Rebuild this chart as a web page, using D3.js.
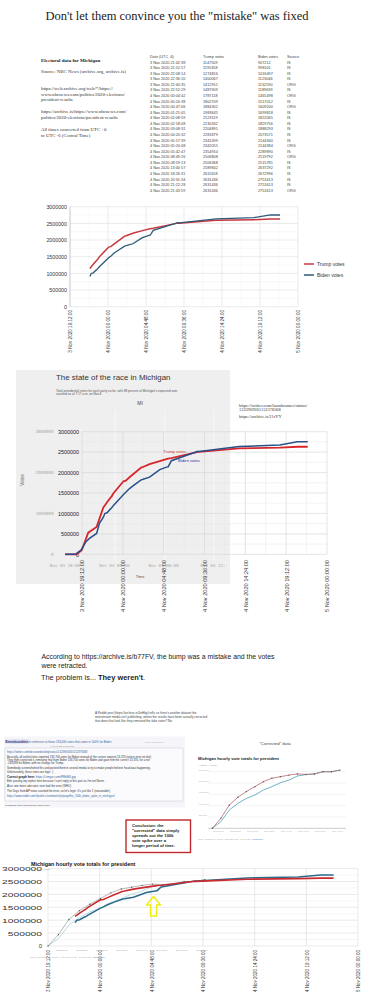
<!DOCTYPE html>
<html>
<head>
<meta charset="utf-8">
<script src="https://cdn.jsdelivr.net/npm/d3@7"></script>
<style>
  html, body { margin: 0; padding: 0; background: #fff; }
  svg { display: block; font-family: "Liberation Sans", Arial, sans-serif; }
</style>
</head>
<body>
<div id="vis"></div>
<script>
// ---- data ----
const rowTimes = [
  "3 Nov 2020 21:42:38", "3 Nov 2020 21:52:57", "3 Nov 2020 22:08:14", "3 Nov 2020 22:36:10",
  "3 Nov 2020 22:40:35", "3 Nov 2020 22:52:29", "4 Nov 2020 00:04:42", "4 Nov 2020 00:20:38",
  "4 Nov 2020 00:47:06", "4 Nov 2020 01:21:05", "4 Nov 2020 02:08:59", "4 Nov 2020 02:18:08",
  "4 Nov 2020 03:08:31", "4 Nov 2020 04:20:32", "4 Nov 2020 05:17:39", "4 Nov 2020 05:20:08",
  "4 Nov 2020 05:42:47", "4 Nov 2020 08:49:26", "4 Nov 2020 08:59:13", "4 Nov 2020 13:40:57",
  "4 Nov 2020 18:26:31", "4 Nov 2020 20:31:34", "4 Nov 2020 21:22:28", "4 Nov 2020 21:43:59"
];
const trumpVotes = [1147509, 1195358, 1274816, 1400067, 1412951, 1487909, 1787118, 1802709,
  1884302, 1983645, 2123119, 2130332, 2204891, 2281879, 2341499, 2342055,
  2354910, 2506808, 2506368, 2589842, 2611658, 2631436, 2631436, 2631436];
const bidenVotes = [907212, 998101, 1016497, 1123046, 1132590, 1189639, 1465498, 1517012,
  1609200, 1699818, 1822065, 1829756, 1888293, 2073571, 2144340, 2144384,
  2289890, 2519792, 2515781, 2637292, 2672996, 2751613, 2751613, 2751613];
const sources = ["IS", "IS", "IS", "IS", "ORG", "IS", "ORG", "IS", "ORG", "IS", "IS", "IS",
  "IS", "IS", "IS", "ORG", "IS", "ORG", "IS", "IS", "IS", "IS", "IS", "ORG"];

const xTickLabels = ["3 Nov 2020 19:12:00", "4 Nov 2020 00:00:00", "4 Nov 2020 04:48:00",
  "4 Nov 2020 09:36:00", "4 Nov 2020 14:24:00", "4 Nov 2020 19:12:00", "5 Nov 2020 00:00:00"];
const yTicks = [0, 500000, 1000000, 1500000, 2000000, 2500000, 3000000];

// start of the NYT screenshot curve, before the table begins
const earlyTrumpTimes = ["3 Nov 2020 17:12:00", "3 Nov 2020 18:35:00", "3 Nov 2020 19:10:00",
  "3 Nov 2020 19:56:00", "3 Nov 2020 20:55:00"];
const earlyTrumpVotes = [0, 0, 100000, 530000, 670000];
const earlyBidenTimes = ["3 Nov 2020 17:12:00", "3 Nov 2020 18:24:00", "3 Nov 2020 19:05:00",
  "3 Nov 2020 19:40:00", "3 Nov 2020 20:05:00", "3 Nov 2020 20:55:00", "3 Nov 2020 21:15:00"];
const earlyBidenVotes = [0, 0, 100000, 310000, 390000, 510000, 760000];
const oldXLabels = ["Nov 03 18:00", "Nov 04 00:30", "Nov 04 06:00", "Nov 04 12:"];
const oldYTicks = [0, 1000000, 2000000, 3000000];

// "corrected" hourly data (millions)
const hourlyTrump = [0, 0.44, 1.03, 1.37, 1.62, 1.84, 2.06, 2.21, 2.28, 2.35, 2.40, 2.38, 2.40, 2.50, 2.50, 2.57];
const hourlyBiden = [0, 0.29, 0.81, 1.10, 1.32, 1.47, 1.69, 1.84, 2.01, 2.13, 2.31, 2.37, 2.40, 2.50, 2.50, 2.57];
const hourlyYTicks = [0, 0.5, 1, 1.5, 2, 2.5];
const hourlyXLabels = ["11/03 20:00", "11/03 22:00", "11/04 00:00", "11/04 02:00", "11/04 04:00",
  "11/04 06:00", "11/04 08:00", "11/04 10:00"];

// ---- drawing ----
const W = 378, H = 1000;
const svg = d3.select('#vis').append('svg').attr('width', W).attr('height', H);
svg.append('rect').attr('width', W).attr('height', H).attr('fill', '#fff');

const parse = d3.timeParse("%d %b %Y %H:%M:%S");
const tickDates = xTickLabels.map(parse);
const t0 = tickDates[0], t1 = tickDates[tickDates.length - 1];
const trumpRows = rowTimes.map((t, i) => ({t: parse(t), v: trumpVotes[i]}));
const bidenRows = rowTimes.map((t, i) => ({t: parse(t), v: bidenVotes[i]}));
const serif = '"Liberation Serif", "Times New Roman", serif';

function txt(g, x, y, s, size, opts = {}) {
  const t = g.append('text').attr('x', x).attr('y', y).attr('font-size', size)
    .attr('fill', opts.fill || '#333').text(s);
  if (opts.family) t.attr('font-family', opts.family);
  if (opts.weight) t.attr('font-weight', opts.weight);
  if (opts.anchor) t.attr('text-anchor', opts.anchor);
  if (opts.len) t.attr('textLength', opts.len).attr('lengthAdjust', 'spacingAndGlyphs');
  return t;
}

// grid + axes for the three time charts
function timeGrid(g, x, y, major, minor, xMinor) {
  const [x0, x1] = x.range(), [yb, yt] = y.range();
  g.append('g').selectAll('line').data(d3.range(0, 3000001, 250000).filter(v => v % 500000))
    .join('line').attr('x1', x0).attr('x2', x1).attr('y1', d => y(d)).attr('y2', d => y(d))
    .attr('stroke', minor).attr('stroke-width', 0.5);
  if (xMinor) {
    g.append('g').selectAll('line').data(tickDates.slice(1))
      .join('line').attr('x1', (d, i) => (x(d) + x(tickDates[i])) / 2).attr('x2', (d, i) => (x(d) + x(tickDates[i])) / 2)
      .attr('y1', yb).attr('y2', yt).attr('stroke', minor).attr('stroke-width', 0.5);
  }
  g.append('g').selectAll('line').data(yTicks)
    .join('line').attr('x1', x0).attr('x2', x1).attr('y1', d => y(d)).attr('y2', d => y(d))
    .attr('stroke', major).attr('stroke-width', 0.6);
  g.append('g').selectAll('line').data(tickDates)
    .join('line').attr('x1', d => x(d)).attr('x2', d => x(d)).attr('y1', yb).attr('y2', yt)
    .attr('stroke', major).attr('stroke-width', 0.6);
}
function xLabels(g, x, yPos, size, fill, len) {
  const ax = g.append('g').attr('transform', `translate(0,${yPos})`)
    .call(d3.axisBottom(x).tickValues(tickDates).tickSize(0).tickFormat((d, i) => xTickLabels[i]));
  ax.select('.domain').remove();
  ax.selectAll('text').attr('font-size', size).attr('fill', fill).attr('font-family', null)
    .attr('text-anchor', 'end').attr('transform', 'rotate(-90)')
    .attr('x', -3).attr('y', 0).attr('dy', '0.35em');
  if (len) ax.selectAll('text').attr('textLength', len).attr('lengthAdjust', 'spacingAndGlyphs');
}
function yLabels(g, y, xPos, size, fill, lenPerChar) {
  const ax = g.append('g').attr('transform', `translate(${xPos},0)`)
    .call(d3.axisLeft(y).tickValues(yTicks).tickSize(0).tickFormat(d3.format('d')));
  ax.select('.domain').remove();
  ax.selectAll('text').attr('font-size', size).attr('fill', fill).attr('font-family', null).attr('x', 0);
  if (lenPerChar) ax.selectAll('text').filter(d => d > 0)
    .attr('textLength', d => String(d).length * lenPerChar).attr('lengthAdjust', 'spacingAndGlyphs');
}

// ===== title =====
txt(svg, 177, 19.5, 'Don\'t let them convince you the "mistake" was fixed', 12.5,
  {family: serif, anchor: 'middle', fill: '#222'});

// ===== source notes + table =====
const notes = svg.append('g').attr('font-family', serif);
txt(notes, 41, 62, 'Electoral data for Michigan', 5, {weight: 'bold', fill: '#222'});
[['Source: NBC News (archive.org, archive.is)', 73],
 ['https://web.archive.org/web/*/https://', 90],
 ['www.nbcnews.com/politics/2020-elections/', 95.7],
 ['president-results', 101.3],
 ['https://archive.is/https://www.nbcnews.com/', 113],
 ['politics/2020-elections/president-results', 118.7],
 ['All times converted from UTC +0', 131],
 ['to UTC -6 (Central Time)', 136.7]].forEach(([s, y]) => txt(notes, 41, y, s, 4.8, {fill: '#333'}));

const table = svg.append('g').attr('font-size', 3.8).attr('fill', '#444');
const colX = [150, 203, 258, 287];
['Date (UTC -6)', 'Trump votes', 'Biden votes', 'Source'].forEach((h, i) =>
  txt(table, colX[i], 58, h, 3.8, {fill: '#444'}));
rowTimes.forEach((t, i) => {
  const yy = 58 + (i + 1) * 5.57;
  [t, trumpVotes[i], bidenVotes[i], sources[i]].forEach((s, j) => txt(table, colX[j], yy, s, 3.8, {fill: '#444'}));
});

// ===== chart 1 =====
const c1 = svg.append('g');
const x1 = d3.scaleTime().domain([t0, t1]).range([70, 298]);
const y1 = d3.scaleLinear().domain([0, 3000000]).range([306.7, 206.7]);
timeGrid(c1, x1, y1, '#dedede', '#f0f0f0', true);
c1.append('line').attr('x1', 70).attr('x2', 70).attr('y1', 206.7).attr('y2', 306.7).attr('stroke', '#bbb').attr('stroke-width', 0.6);
yLabels(c1, y1, 67, 5.3, '#333');
xLabels(c1, x1, 307, 4.6, '#333');
const line1 = d3.line().x(d => x1(d.t)).y(d => y1(d.v));
c1.append('path').datum(trumpRows).attr('d', line1).attr('fill', 'none').attr('stroke', '#c8383f').attr('stroke-width', 1.5);
c1.append('path').datum(bidenRows).attr('d', line1).attr('fill', 'none').attr('stroke', '#2e5a78').attr('stroke-width', 1.3);
[['Trump votes', '#c8383f', 264], ['Biden votes', '#2e5a78', 275]].forEach(([s, c, yy]) => {
  c1.append('line').attr('x1', 304).attr('x2', 314).attr('y1', yy).attr('y2', yy).attr('stroke', c).attr('stroke-width', 1.5);
  txt(c1, 317, yy + 1.8, s, 5, {fill: '#333'});
});

// ===== chart 2 (NYT screenshot + overlay) =====
const c2 = svg.append('g');
c2.append('rect').attr('x', 16).attr('y', 370).attr('width', 214).attr('height', 214).attr('fill', '#efefef');
const x2 = d3.scaleTime().domain([t0, t1]).range([82, 327]);
const y2 = d3.scaleLinear().domain([0, 3000000]).range([554.3, 431.7]);
const oldX = d3.scalePoint().domain(oldXLabels).range([65, 213]);
c2.append('g').selectAll('line').data(oldXLabels.slice(1)).join('line')
  .attr('x1', d => oldX(d) + 1).attr('x2', d => oldX(d) + 1).attr('y1', 410).attr('y2', 560)
  .attr('stroke', '#fafafa').attr('stroke-width', 0.8);
txt(c2, 56, 380, 'The state of the race in Michigan', 7.9, {fill: '#333'});
txt(c2, 56, 391.6, 'Total presidential votes for each party so far, with 88 percent of Michigan\'s expected vote', 3.1, {fill: '#555'});
txt(c2, 56, 395.2, 'counted as of 7:17 a.m. on Nov.4', 3.1, {fill: '#555'});
txt(c2, 140, 405, 'MI', 5, {fill: '#444', anchor: 'middle'});
txt(c2, 0, 0, 'Votes', 4.6, {fill: '#555', anchor: 'middle'}).attr('transform', 'translate(23.5,480) rotate(-90)');
txt(c2, 140, 577.5, 'Time', 4, {fill: '#555', anchor: 'middle'});
oldXLabels.forEach(s => txt(c2, oldX(s), 567, s, 4.2, {family: '"DejaVu Sans Mono", monospace', fill: '#aaa', anchor: 'middle'}));
oldYTicks.forEach(v => txt(c2, 53.5, y2(v) + 1.5, d3.format('d')(v), 4.3, {family: '"DejaVu Sans Mono", monospace', fill: '#aaa', anchor: 'end'}));
timeGrid(c2, x2, y2, '#d4d4d4', '#e6e6e6', true);
yLabels(c2, y2, 79, 5.4, '#222');
xLabels(c2, x2, 557, 5.6, '#333');
const line2 = d3.line().x(d => x2(d.t)).y(d => y2(d.v));
const trump2 = earlyTrumpTimes.map((t, i) => ({t: parse(t), v: earlyTrumpVotes[i]})).concat(trumpRows);
const biden2 = earlyBidenTimes.map((t, i) => ({t: parse(t), v: earlyBidenVotes[i]})).concat(bidenRows);
c2.append('path').datum(trump2).attr('d', line2).attr('fill', 'none').attr('stroke', '#d8262a').attr('stroke-width', 1.8);
c2.append('path').datum(biden2).attr('d', line2).attr('fill', 'none').attr('stroke', '#28508a').attr('stroke-width', 1.5);
txt(c2, 163, 453, 'Trump votes', 4.2, {fill: '#c84040'});
txt(c2, 178, 462, 'Biden votes', 4.2, {fill: '#2a3aa0'});
[['https://twitter.com/laurabronner/status/', 406.5], ['1323909265152378368', 411], ['https://archive.is/21rYY', 418]]
  .forEach(([s, yy]) => txt(c2, 239, yy, s, 4.4, {family: serif, fill: '#333'}));

// ===== text between =====
txt(svg, 41.5, 659, 'According to https://archive.is/b77FV, the bump was a mistake and the votes', 6.9, {fill: '#222'});
txt(svg, 41.5, 667.5, 'were retracted.', 6.9, {fill: '#222'});
const prob = txt(svg, 41, 679.5, 'The problem is... ', 7.4, {fill: '#222'});
prob.append('tspan').attr('font-weight', 'bold').text('They weren\'t');
prob.append('tspan').text('.');

txt(svg, 95, 714, 'A Reddit post (https://archive.is/0eHkp) tells us there\'s another dataset the', 3.1, {fill: '#444'});
txt(svg, 95, 718, 'mainstream media isn\'t publishing, where the results have been actually corrected', 3.1, {fill: '#444'});
txt(svg, 95, 722, 'that does that look like they removed the fake votes? No', 3.1, {fill: '#444'});

// ===== reddit comment screenshot =====
const rd = svg.append('g');
rd.append('rect').attr('x', 4).attr('y', 736.5).attr('width', 181).attr('height', 71).attr('fill', '#f5f5fa');
rd.append('rect').attr('x', 5).attr('y', 739.5).attr('width', 24).attr('height', 4).attr('fill', '#d8d8f0');
const hdr = txt(rd, 5.5, 743, 'Eternalsunshine', 2.9, {fill: '#336', weight: 'bold'});
hdr.append('tspan').attr('font-weight', 'normal').attr('fill', '#369').text(' in reference to those 133,000 votes that came in 100% for Biden');
txt(rd, 145, 743, '(more from parent)', 2.2, {fill: '#aaa'});
txt(rd, 50, 746.5, '[–] 51 points 2 hours ago', 2.2, {fill: '#888'});
rd.append('rect').attr('x', 5).attr('y', 748).attr('width', 178).attr('height', 53).attr('fill', '#fbfbfd').attr('stroke', '#c8c8d8').attr('stroke-width', 0.5);
[['https://twitter.com/decisiondeskhq/status/1323909265152378368', 752.5, '#369'],
 ['Basically, all outlets/sites reported 133,700 votes for Biden instead of the correct amount 13,370 (notice error on dot).', 757.5, '#333'],
 ['They then corrected it, removing that from Biden 133,700 votes for Biden and gave him the correct 13,370, for a net', 760.8, '#333'],
 ['-133,889 for Biden, with no change for Trump.', 764, '#333'],
 ['Somebody screenshotted this and posted them in several media to try to make people believe fraud was happening.', 768.5, '#333'],
 ['Unfortunately, these votes are legit. :)', 773, '#333'],
 ['Edit: posting my replies here because I can\'t reply to this post as I\'m not Never.', 782.3, '#333'],
 ['Also: one more side note: ever had the error (WHO)', 787.3, '#333'],
 ['The Guys from AP news counted the error, so let\'s login. It\'s just like 1 (reasonable).', 792.3, '#333'],
 ['https://www.reddit.com/r/politics/comments/jntpwp/the_100k_biden_spike_in_michigan/', 797.3, '#369']]
  .forEach(([s, yy, c]) => txt(rd, 7, yy, s, 2.8, {fill: c}));
const cg = txt(rd, 7, 777.5, 'Correct graph here: ', 3, {fill: '#222', weight: 'bold'});
cg.append('tspan').attr('font-weight', 'normal').attr('fill', '#369').text('https://i.imgur.com/PBhM0.jpg');
txt(rd, 5, 806, 'Permalink   Save   Edit   parent   report   reply', 2.4, {fill: '#777', weight: 'bold'});

// ===== "corrected" mini chart =====
const mc = svg.append('g');
txt(mc, 275, 745, '"Corrected" data', 4.3, {fill: '#444', anchor: 'middle'});
txt(mc, 198, 759.5, 'Michigan hourly vote totals for president', 4.2, {fill: '#222', weight: 'bold'});
txt(mc, 198, 765.8, '— Biden   — Trump', 2.3, {fill: '#999'});
const xm = d3.scaleLinear().domain([0, hourlyTrump.length - 1]).range([212.3, 340]);
const ym = d3.scaleLinear().domain([0, 2.5]).range([828.3, 771.7]);
mc.append('g').selectAll('line').data(hourlyYTicks).join('line')
  .attr('x1', 208).attr('x2', 346).attr('y1', d => ym(d)).attr('y2', d => ym(d))
  .attr('stroke', d => d === 0 ? '#999' : '#e6e6e6').attr('stroke-width', 0.5);
hourlyYTicks.filter(d => d > 0).forEach(d => txt(mc, 199, ym(d) - 1, d3.format(',')(d * 1e6), 2.2, {fill: '#aaa'}));
hourlyXLabels.forEach((s, i) => txt(mc, 213 + i * 17, 832, s, 2.1, {fill: '#aaa'}));
const mline = d3.line().x((d, i) => xm(i)).y(d => ym(d));
mc.append('path').datum(hourlyBiden).attr('d', mline).attr('fill', 'none').attr('stroke', '#4aa3b5').attr('stroke-width', 0.8);
mc.append('path').datum(hourlyTrump).attr('d', mline).attr('fill', 'none').attr('stroke', '#b86a72').attr('stroke-width', 0.8);
mc.append('g').selectAll('circle').data(hourlyTrump).join('circle')
  .attr('cx', (d, i) => xm(i)).attr('cy', d => ym(d)).attr('r', 0.7).attr('fill', '#555');
txt(mc, 198, 839.5, 'Chart: @DataReport · Source: Associated Press · Get the data · ', 1.9, {fill: '#aaa'})
  .append('tspan').attr('fill', '#3a8ac0').text('Datawrapper');

// ===== conclusion box =====
const cb = svg.append('g');
cb.append('rect').attr('x', 126).attr('y', 820).attr('width', 64.5).attr('height', 32.5)
  .attr('fill', '#fff').attr('stroke', '#c0282d').attr('stroke-width', 1.4);
['Conclusion: the', '"corrected" data simply', 'spreads out the 100k', 'vote spike over a', 'longer period of time.']
  .forEach((s, i) => txt(cb, 132, 827.3 + i * 5, s, 4.2, {fill: '#222', weight: '600'}));

// ===== bottom overlay chart =====
const c3 = svg.append('g');
const x3 = d3.scaleTime().domain([t0, t1]).range([48, 358]);
const y3 = d3.scaleLinear().domain([0, 3000000]).range([946, 868.6]);
timeGrid(c3, x3, y3, '#dcdcdc', '#ececec', false);
yLabels(c3, y3, 42, 6, '#333', 5.7);
c3.append('rect').attr('x', 30).attr('y', 858).attr('width', 115).attr('height', 8.2).attr('fill', '#fff');
txt(c3, 31, 866, 'Michigan hourly vote totals for president', 5.4, {fill: '#111', weight: 'bold'});
txt(c3, 31, 870, '— Biden   — Trump', 2.3, {fill: '#999'});
xLabels(c3, x3, 947, 5, '#333', 42);
hourlyXLabels.forEach((s, i) => txt(c3, 56 + i * 20, 951, s, 2.2, {fill: '#999'}));
txt(c3, 30, 958, 'Chart: @DataReport · Source: Associated Press · Get the data · ', 2.2, {fill: '#aaa'})
  .append('tspan').attr('fill', '#3a8ac0').text('Datawrapper');
// faint copy of the hourly screenshot underneath
const xh = d3.scaleLinear().domain([0, hourlyTrump.length - 1]).range([48, 205]);
const hline = d3.line().x((d, i) => xh(i)).y(d => y3(d * 1e6));
c3.append('path').datum(hourlyBiden).attr('d', hline).attr('fill', 'none').attr('stroke', '#8cc4d0').attr('stroke-width', 0.6);
c3.append('path').datum(hourlyTrump).attr('d', hline).attr('fill', 'none').attr('stroke', '#888').attr('stroke-width', 0.6);
c3.append('g').selectAll('circle').data(hourlyTrump).join('circle')
  .attr('cx', (d, i) => xh(i)).attr('cy', d => y3(d * 1e6)).attr('r', 0.7).attr('fill', '#555');
const line3 = d3.line().x(d => x3(d.t)).y(d => y3(d.v));
c3.append('path').datum(bidenRows).attr('d', line3).attr('fill', 'none').attr('stroke', '#2c6a8a').attr('stroke-width', 1.5);
c3.append('path').datum(trumpRows).attr('d', line3).attr('fill', 'none').attr('stroke', '#cc2a2e').attr('stroke-width', 1.6);

// yellow arrow pointing at the bump
c3.append('path')
  .attr('d', 'M153.5,896.5 L160.5,905 L156.5,905 L156.5,916 L150.5,916 L150.5,905 L146.5,905 Z')
  .attr('fill', 'none').attr('stroke', '#eeee10').attr('stroke-width', 1.4).attr('stroke-linejoin', 'round');
</script>
</body>
</html>
